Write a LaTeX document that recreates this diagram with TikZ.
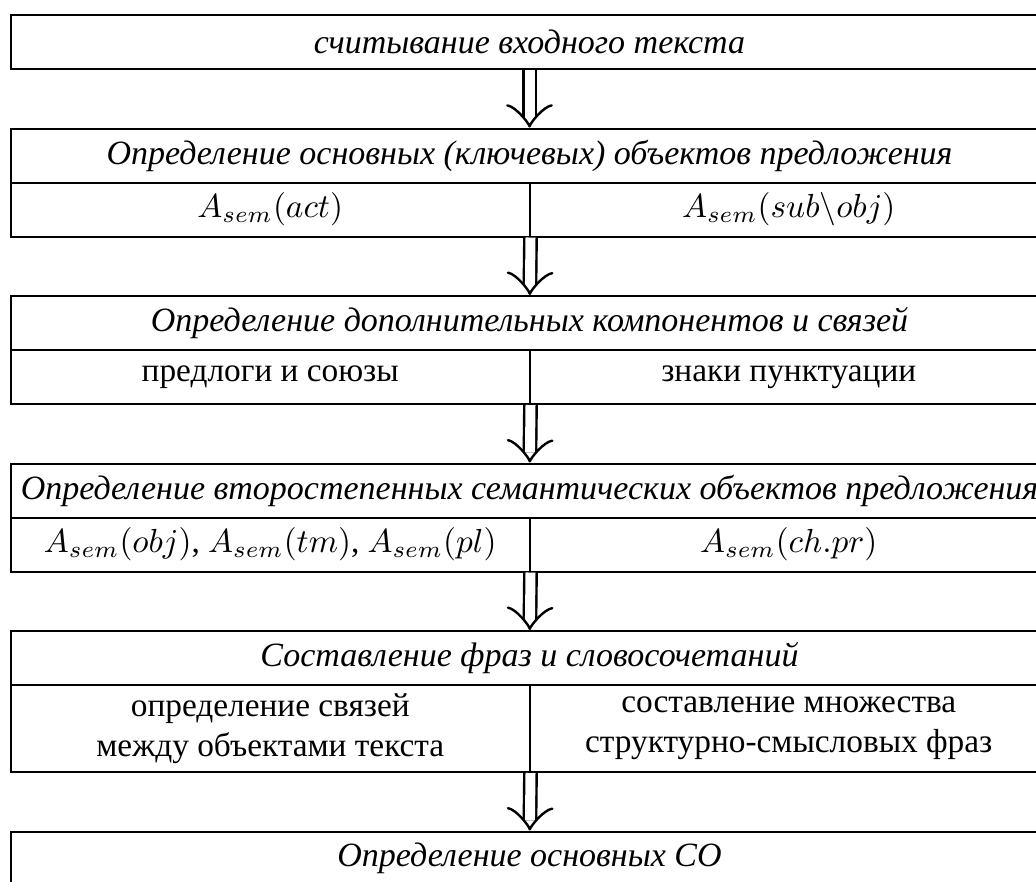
\documentclass[tikz,border=0pt]{standalone}
\usepackage{fontspec}
\setmainfont{Liberation Serif}
\usepackage{tikz}
\usetikzlibrary{arrows.meta}
\newcommand{\unitpx}{0.3pt}
\tikzset{
  head/.style={draw, line width={2*\unitpx}, rectangle, minimum width={1037*\unitpx}, minimum height={54*\unitpx}, inner sep=0pt, font=\fontsize{10.2}{12}\selectfont\itshape},
  cell/.style={draw, line width={2*\unitpx}, rectangle, minimum width={518.5*\unitpx}, minimum height={54*\unitpx}, inner sep=0pt, align=center, font=\fontsize{10}{12}\selectfont},
  pass/.style={line width={2.4*\unitpx}, double, double distance={10*\unitpx}, -{Classical TikZ Rightarrow[length=7pt, width=14pt, line width=0.72pt]}}
}

\begin{document}
\begin{tikzpicture}[x=\unitpx, y=-\unitpx]
  \useasboundingbox (0,0) rectangle (1036,881);
  \clip (0,0) rectangle (1036,881);

  \node[head] (read) at (529.5,42) {считывание входного текста};

  \node[head] (key) at (529.5,155.5) {Определение основных (ключевых) объектов предложения};
  \node[cell] (keyL) at (270.25,209.5) {$A_{sem}(act)$};
  \node[cell] (keyR) at (788.75,209.5) {$A_{sem}(sub\backslash obj)$};

  \node[head] (add) at (529.5,323) {Определение дополнительных компонентов и связей};
  \node[cell] (addL) at (270.25,377) {предлоги и союзы};
  \node[cell] (addR) at (788.75,377) {знаки пунктуации};

  \node[head] (sec) at (529.5,490.5) {Определение второстепенных семантических объектов предложения};
  \node[cell] (secL) at (270.25,544.5) {$A_{sem}(obj)$, $A_{sem}(tm)$, $A_{sem}(pl)$};
  \node[cell] (secR) at (788.75,544.5) {$A_{sem}(ch.pr)$};

  \node[head] (phr) at (529.5,658) {Составление фраз и словосочетаний};
  \node[cell, minimum height={87*\unitpx}] (phrL) at (270.25,728.5) {определение связей\\ между объектами текста};
  \node[cell, minimum height={87*\unitpx}] (phrR) at (788.75,728.5) {составление множества\\ структурно-смысловых фраз};

  \node[head] (main) at (529.5,858.5) {Определение основных СО};

  \draw[pass] (read) -- (key);
  \draw[pass] (keyL.south east) -- (add);
  \draw[pass] (addL.south east) -- (sec);
  \draw[pass] (secL.south east) -- (phr);
  \draw[pass] (phrL.south east) -- (main);
\end{tikzpicture}
\end{document}
